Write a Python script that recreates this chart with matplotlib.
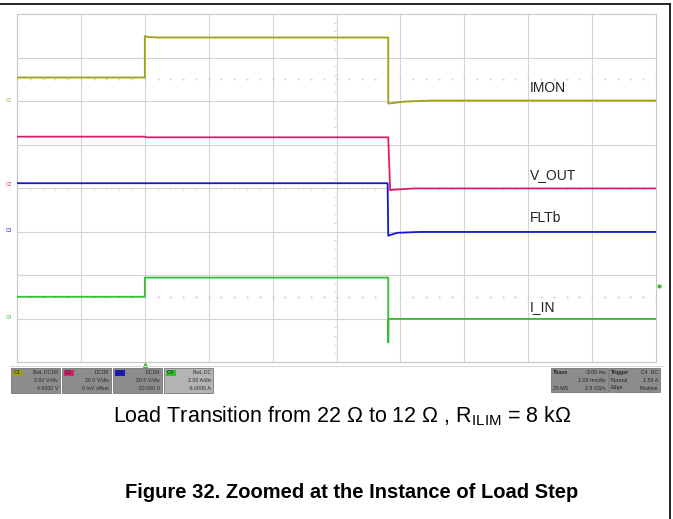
import matplotlib.pyplot as plt
from matplotlib.patches import Rectangle
from matplotlib.lines import Line2D

plt.rcParams['font.family'] = ['Liberation Sans', 'DejaVu Sans']
plt.rcParams['mathtext.fontset'] = 'custom'
plt.rcParams['mathtext.rm'] = 'Liberation Sans'

# Scope traces: time in ms (1 ms/div), level in divisions from bottom of screen
imon_t = [0, 2.0, 2.0, 2.06, 2.2, 5.81, 5.81, 5.86, 6.1, 6.5, 10]
imon_v = [6.54, 6.54, 7.49, 7.47, 7.46, 7.46, 5.94, 5.95, 5.99, 6.01, 6.01]
vout_t = [0, 2.0, 2.03, 5.81, 5.84, 5.90, 6.2, 10]
vout_v = [5.18, 5.18, 5.165, 5.165, 3.95, 3.96, 3.99, 3.99]
fltb_t = [0, 5.80, 5.81, 5.84, 5.95, 6.3, 10]
fltb_v = [4.11, 4.11, 2.90, 2.92, 2.97, 2.99, 2.99]
iin_t = [0, 2.0, 2.0, 5.81, 5.81, 5.812, 10]
iin_v = [1.50, 1.50, 1.94, 1.94, 0.45, 0.99, 0.99]

trace_names = ['IMON', 'V_OUT', 'FLTb', 'I_IN']
label_pos = [6.3, 4.3, 3.31, 1.26]
ch_offsets = [6.02, 4.09, 3.03, 1.03]
ch_names = ['C1', 'C2', 'C3', 'C4']
colors = ['#a0a012', '#d8206e', '#1818c8', '#30c030']

ch_info = [('BwL DC1M', '2.00 V/div', '4.0000 V'),
           ('DC1M', '20.0 V/div', '0 mV offset'),
           ('DC1M', '20.0 V/div', '-20.000 V'),
           ('BwL DC', '2.00 A/div', '-6.0000 A')]

W, H = 673, 519
fig = plt.figure(figsize=(W / 100, H / 100), dpi=100)

# scope screen
ax = fig.add_axes([17 / W, (H - 362) / H, 639 / W, 348 / H])
ax.set_xlim(0, 10)
ax.set_ylim(0, 8)
ax.set_xticks([])
ax.set_yticks([])
for s in ax.spines.values():
    s.set_color('#c8c8c8')
    s.set_linewidth(0.8)
for gx in range(1, 10):
    ax.axvline(gx, color='#d4d4d4', lw=0.8, zorder=1)
for gy in range(1, 8):
    ax.axhline(gy, color='#d4d4d4', lw=0.8, zorder=1)

# minor ticks on the centre lines
for k in range(50):
    xm = k * 0.2
    ax.plot([xm, xm], [3.96, 4.0], color='#cfcfcf', lw=0.5, zorder=1)
for k in range(40):
    ym = k * 0.2
    ax.plot([4.96, 5.0], [ym, ym], color='#cfcfcf', lw=0.5, zorder=1)

# dotted reference levels
dots_x = [k * 0.2 for k in range(51)]
for lvl in [6.5, 1.5]:
    ax.plot(dots_x, [lvl] * len(dots_x), ls='none', marker='.', ms=1.0,
            color='#cccccc', zorder=1)

series = [(imon_t, imon_v), (vout_t, vout_v), (fltb_t, fltb_v), (iin_t, iin_v)]
for (t, v), c, name, ly in zip(series, colors, trace_names, label_pos):
    ax.plot(t, v, color=c, lw=1.3, zorder=3)
    ax.text(8.02, ly, name, fontsize=10, color='#222222', va='center', ha='left')

# channel ground markers
for name, y0, c in zip(ch_names, ch_offsets, colors):
    ax.text(-0.08, y0, name, fontsize=3.5, color=c, ha='right', va='center',
            clip_on=False)

# trigger markers
ax.plot([2.0], [-0.07], marker='^', ms=3, color='#30c030', clip_on=False)
ax.plot([10.05], [1.75], marker='o', ms=2, color='#30c030', clip_on=False)

# overlay in pixel coordinates for status boxes and captions
ov = fig.add_axes([0, 0, 1, 1])
ov.set_xlim(0, W)
ov.set_ylim(H, 0)
ov.axis('off')
ov.patch.set_alpha(0)

ov.add_line(Line2D([0, 670], [4, 4], color='black', lw=1.2))
ov.add_line(Line2D([670, 670], [4, H], color='black', lw=1.2))
ov.add_line(Line2D([10, 663], [366, 366], color='#d8d8d8', lw=0.8))

box_x = [11, 62, 113, 164]
for bx, name, c, info, k in zip(box_x, ch_names, colors, ch_info, range(4)):
    bg = '#b4b4b4' if k == 3 else '#8c8c8c'
    ov.add_patch(Rectangle((bx, 368), 49, 25, facecolor=bg, edgecolor='#666666', lw=0.5))
    ov.add_patch(Rectangle((bx + 1.5, 369.5), 10, 6, facecolor=c, edgecolor='none'))
    ov.text(bx + 6.5, 372.5, name, fontsize=4, ha='center', va='center', color='#222222')
    ov.text(bx + 47, 372.5, info[0], fontsize=3.6, ha='right', va='center', color='#2a2a2a')
    ov.text(bx + 47, 380.5, info[1], fontsize=3.8, ha='right', va='center', color='#2a2a2a')
    ov.text(bx + 47, 388, info[2], fontsize=3.8, ha='right', va='center', color='#2a2a2a')

for bx, bw, rows in [(551, 57, [('Tbase', '-3.00 ms'), ('', '1.00 ms/div'), ('25 MS', '2.5 GS/s')]),
                     (609, 51, [('Trigger', 'C4  DC'), ('Normal', '1.50 A'), ('Edge', 'Positive')])]:
    ov.add_patch(Rectangle((bx, 368), bw, 24, facecolor='#8c8c8c', edgecolor='#666666', lw=0.5))
    for (lt, rt), yy in zip(rows, [372.5, 380.5, 388]):
        ov.text(bx + 2, yy, lt, fontsize=3.8, ha='left', va='center', color='#222222',
                fontweight='bold' if yy == 372.5 else 'normal')
        ov.text(bx + bw - 2, yy, rt, fontsize=3.8, ha='right', va='center', color='#222222')

ov.text(342, 416, r'Load Transition from 22 Ω to 12 Ω , R$_{\mathregular{ILIM}}$ = 8 kΩ',
        fontsize=15.5, ha='center', va='center', color='black')
ov.text(352, 492, 'Figure 32. Zoomed at the Instance of Load Step', fontsize=14.5,
        fontweight='bold', ha='center', va='center', color='black')

plt.savefig('out.png', dpi=100)
